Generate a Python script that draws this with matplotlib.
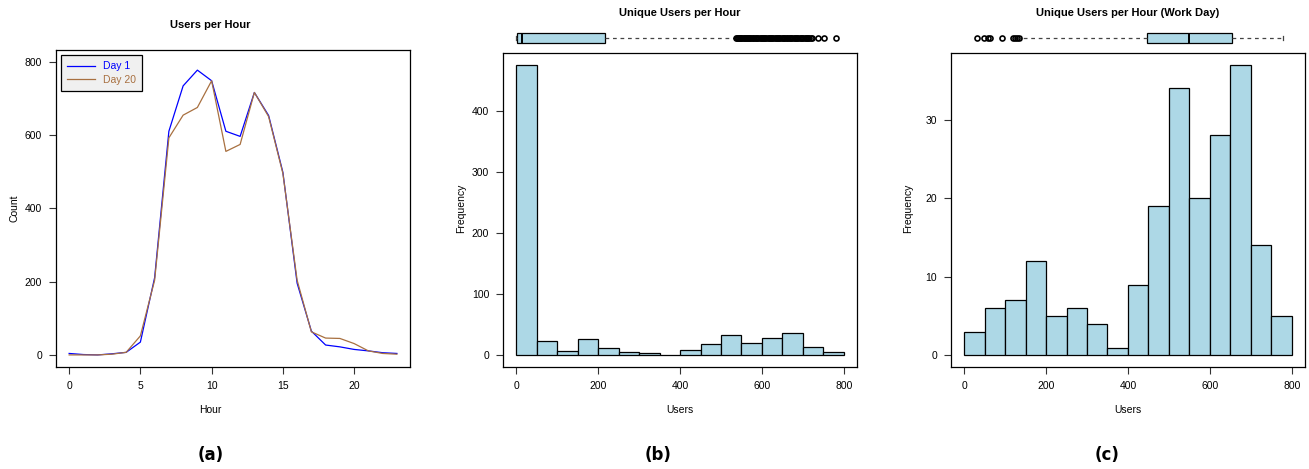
import matplotlib
matplotlib.use("Agg")
import matplotlib.pyplot as plt
import numpy as np

plt.rcParams['font.family'] = ['Liberation Sans', 'DejaVu Sans']

# panel (a): users per hour for two days
hours = list(range(24))
day1 = [4, 1, 0, 3, 7, 35, 211, 611, 735, 778, 749, 611, 597, 717, 654, 499,
        196, 65, 27, 22, 15, 11, 6, 4]
day20 = [0, 0, 0, 2, 7, 52, 204, 593, 655, 676, 749, 556, 575, 717, 651, 496,
         204, 63, 46, 45, 31, 11, 4, 2]

# panel (b) / (c): histogram counts, bins of 50 users from 0 to 800
bin_edges = list(range(0, 801, 50))
counts_all = [475, 23, 7, 26, 12, 6, 4, 1, 9, 19, 34, 20, 28, 37, 14, 5]
counts_work = [3, 6, 7, 12, 5, 6, 4, 1, 9, 19, 34, 20, 28, 37, 14, 5]

# boxplot summaries
box_all = dict(whislo=0, q1=3, med=15, q3=217, whishi=533,
               fliers=[536, 538, 541, 543, 546, 548, 550, 553, 555, 558, 560,
                       563, 566, 568, 571, 574, 577, 579, 582, 585, 588, 591,
                       594, 597, 600, 603, 605, 608, 611, 614, 617, 620, 622,
                       625, 628, 631, 634, 637, 640, 642, 645, 648, 651, 654,
                       657, 660, 662, 665, 668, 671, 674, 677, 680, 683, 686,
                       689, 692, 695, 698, 701, 704, 707, 710, 713, 716, 719,
                       722, 736, 751, 780])
box_work = dict(whislo=139, q1=447, med=549, q3=654, whishi=778,
                fliers=[31, 48, 59, 63, 92, 119, 124, 129, 134])

brown = '#a87040'
fill = '#add8e6'

fig = plt.figure(figsize=(13.09, 4.69), dpi=100)


def style(ax):
    for s in ax.spines.values():
        s.set_linewidth(0.9)
    ax.tick_params(length=5, width=0.8, pad=5, labelsize=7.5, color='#333333')


# ---- (a)
ax = fig.add_axes([0.0428, 0.2175, 0.2704, 0.6759])
ax.plot(hours, day1, color='blue', lw=0.9, label='Day 1')
ax.plot(hours, day20, color=brown, lw=0.9, label='Day 20')
ax.set_xlim(-0.92, 23.92)
ax.set_ylim(-33, 833)
ax.set_xticks([0, 5, 10, 15, 20])
ax.set_yticks([0, 200, 400, 600, 800])
style(ax)
leg = ax.legend(loc='upper left', fontsize=7.5, fancybox=False, framealpha=1,
                handlelength=2.6, borderpad=0.6, labelspacing=0.3,
                borderaxespad=0.5)
leg.get_frame().set_facecolor('#f0f0f0')
leg.get_frame().set_edgecolor('black')
leg.get_frame().set_linewidth(0.9)
for t, c in zip(leg.get_texts(), ['blue', brown]):
    t.set_color(c)
fig.text(0.161, 0.947, 'Users per Hour', ha='center', va='center', fontsize=8, weight='bold')
fig.text(0.161, 0.126, 'Hour', ha='center', va='center', fontsize=7.5)
fig.text(0.011, 0.555, 'Count', ha='center', va='center', fontsize=7.5, rotation=90)


def hist_panel(left, counts, ylim, yticks, box, title):
    ax = fig.add_axes([left, 0.2175, 0.2704, 0.6695])
    ax.bar(bin_edges[:-1], counts, width=50, align='edge', color=fill,
           edgecolor='black', linewidth=0.9)
    ax.set_xlim(-32, 832)
    ax.set_ylim(*ylim)
    ax.set_xticks([0, 200, 400, 600, 800])
    ax.set_yticks(yticks)
    style(ax)
    bx = fig.add_axes([left, 0.902, 0.2704, 0.0341])
    bx.bxp([dict(box)], vert=False, widths=0.6, patch_artist=True,
           boxprops=dict(facecolor=fill, edgecolor='black', linewidth=0.9),
           medianprops=dict(color='black', linewidth=1.4),
           whiskerprops=dict(color='#444444', linewidth=0.9, linestyle=(0, (3, 3))),
           capprops=dict(color='#444444', linewidth=0.9),
           capwidths=0.3,
           flierprops=dict(marker='o', markersize=3.6, markerfacecolor='none',
                           markeredgecolor='black', markeredgewidth=1.2))
    bx.set_xlim(-32, 832)
    bx.set_ylim(0.5, 1.5)
    bx.axis('off')
    cx = left + 0.2704 / 2
    fig.text(cx, 0.972, title, ha='center', va='center', fontsize=8, weight='bold')
    fig.text(cx, 0.126, 'Users', ha='center', va='center', fontsize=7.5)
    return ax


hist_panel(0.3843, counts_all, (-19, 494), [0, 100, 200, 300, 400], box_all,
           'Unique Users per Hour')
fig.text(0.352, 0.555, 'Frequency', ha='center', va='center', fontsize=7.5, rotation=90)
hist_panel(0.7265, counts_work, (-1.48, 38.48), [0, 10, 20, 30], box_work,
           'Unique Users per Hour (Work Day)')
fig.text(0.694, 0.555, 'Frequency', ha='center', va='center', fontsize=7.5, rotation=90)

for x, s in [(0.161, '(a)'), (0.503, '(b)'), (0.846, '(c)')]:
    fig.text(x, 0.03, s, ha='center', va='center', fontsize=12, weight='bold',
             family='DejaVu Sans')

fig.savefig('out.png', dpi=100)
